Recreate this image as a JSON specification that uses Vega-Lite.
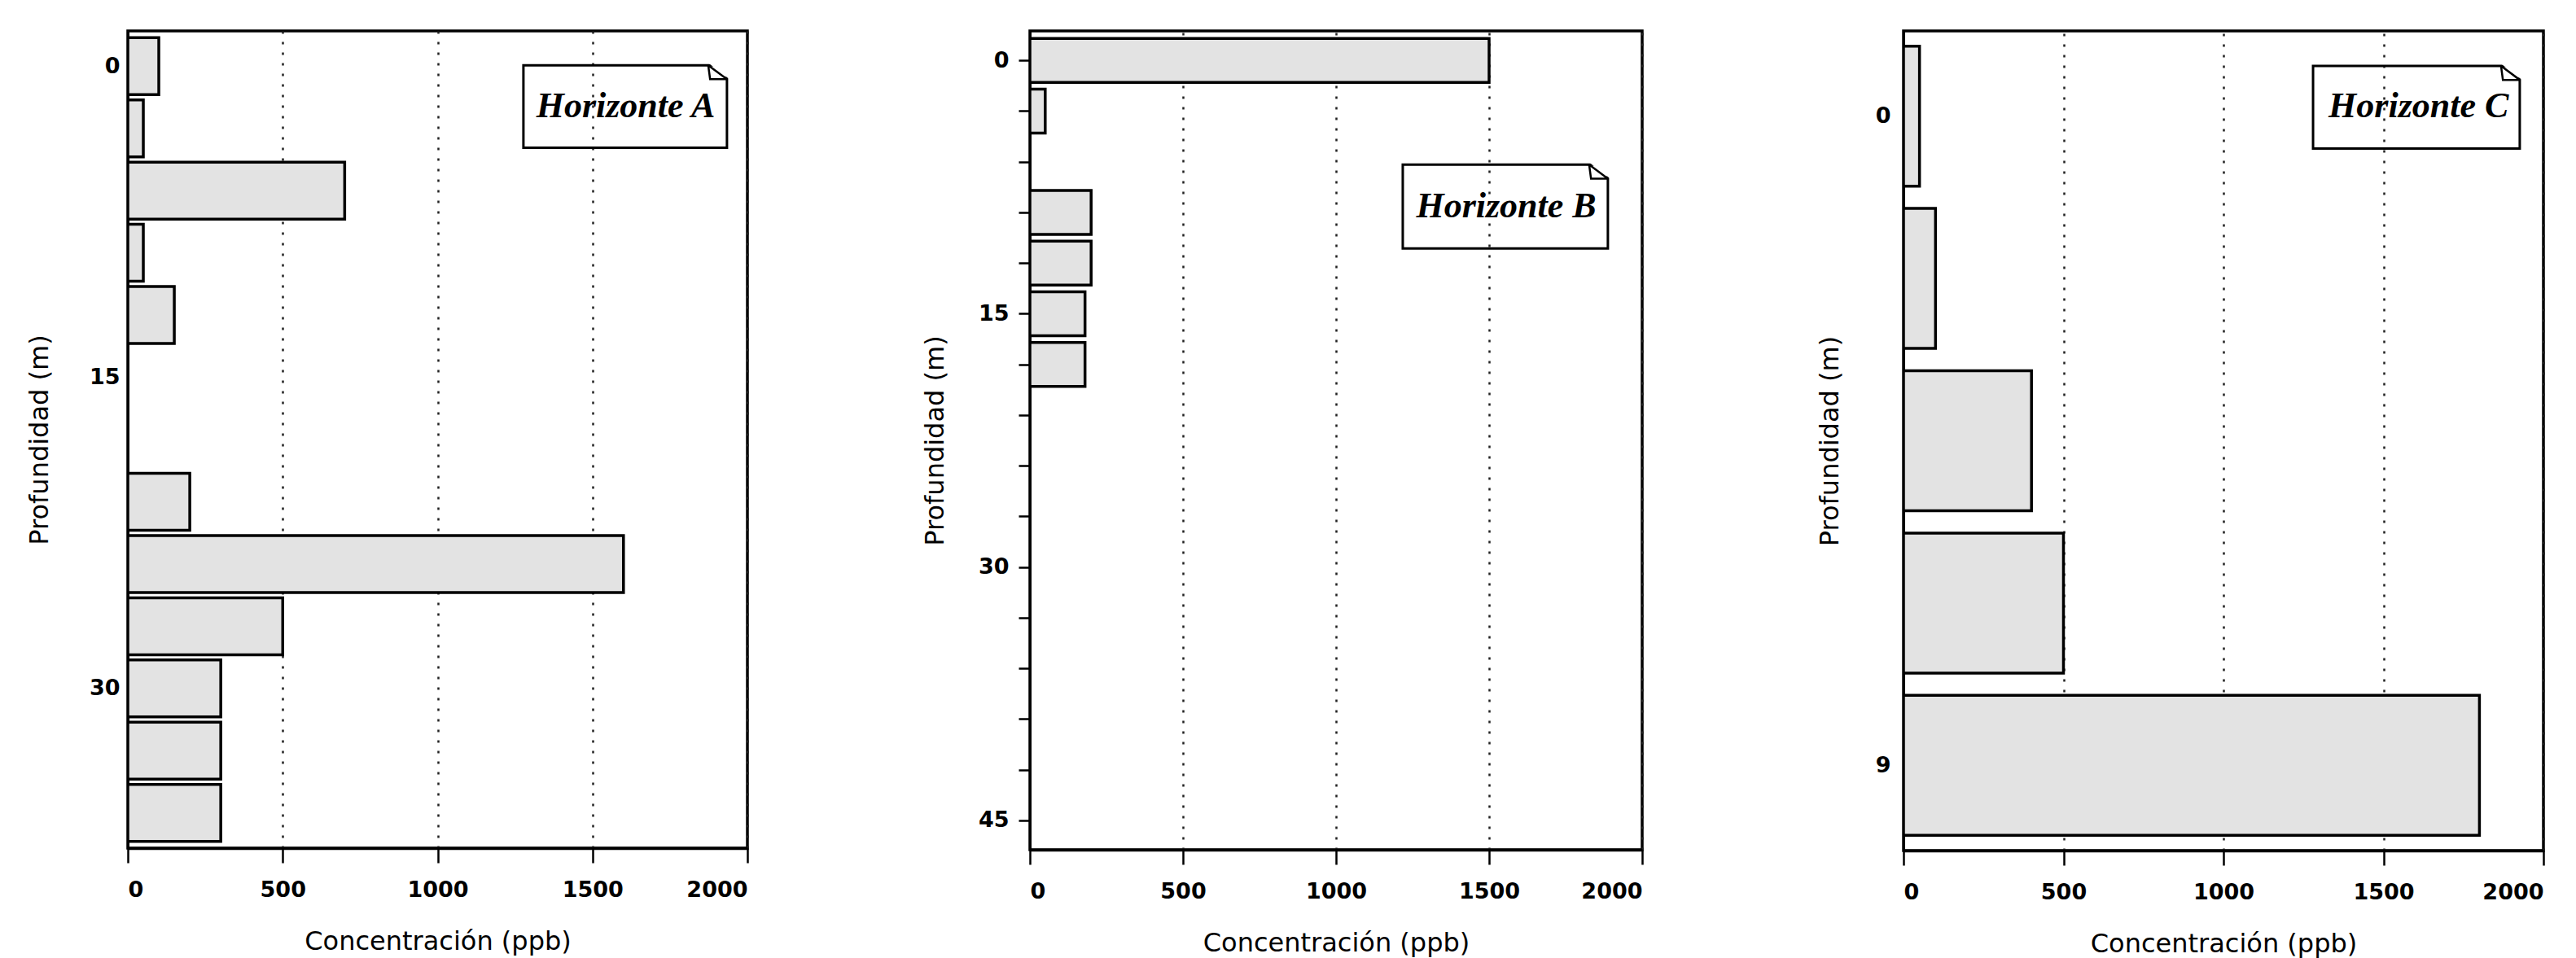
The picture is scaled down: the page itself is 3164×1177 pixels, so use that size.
{
  "$schema": "https://vega.github.io/schema/vega-lite/v6.json",
  "padding": {"left": 30, "top": 36, "right": 5, "bottom": 0},
  "background": "white",
  "datasets": {
    "hA": [
      {"profundidad": 0, "concentracion": 100},
      {"profundidad": 3, "concentracion": 50},
      {"profundidad": 6, "concentracion": 700},
      {"profundidad": 9, "concentracion": 50},
      {"profundidad": 12, "concentracion": 150},
      {"profundidad": 21, "concentracion": 200},
      {"profundidad": 24, "concentracion": 1600},
      {"profundidad": 27, "concentracion": 500},
      {"profundidad": 30, "concentracion": 300},
      {"profundidad": 33, "concentracion": 300},
      {"profundidad": 36, "concentracion": 300}
    ],
    "hB": [
      {"profundidad": 0, "concentracion": 1500},
      {"profundidad": 3, "concentracion": 50},
      {"profundidad": 9, "concentracion": 200},
      {"profundidad": 12, "concentracion": 200},
      {"profundidad": 15, "concentracion": 180},
      {"profundidad": 18, "concentracion": 180}
    ],
    "hC": [
      {"profundidad": 0, "concentracion": 50},
      {"profundidad": 2.25, "concentracion": 100},
      {"profundidad": 4.5, "concentracion": 400},
      {"profundidad": 6.75, "concentracion": 500},
      {"profundidad": 9, "concentracion": 1800}
    ]
  },
  "hconcat": [
    {
      "width": 761,
      "height": 1004,
      "layer": [
        {
          "data": {"name": "hA"},
          "mark": {"type": "bar", "orient": "horizontal", "height": 70, "fill": "#e3e3e3", "stroke": "black", "strokeWidth": 3.5, "clip": true},
          "encoding": {
            "x": {"field": "concentracion", "type": "quantitative", "scale": {"domain": [0, 2000], "nice": false},
                  "axis": {"values": [0, 500, 1000, 1500, 2000], "format": "d", "title": "Concentración (ppb)"}},
            "y": {"field": "profundidad", "type": "quantitative", "scale": {"domain": [-1.5, 37.5], "reverse": true, "nice": false, "zero": false},
                  "axis": {"values": [0, 15, 30], "format": "d", "ticks": false, "tickSize": 0, "labelPadding": 10, "title": "Profundidad (m)", "titlePadding": 44}}
          }
        },
        {
          "data": {"values": [{}]},
          "mark": {"type": "rect", "fill": null, "stroke": "black", "strokeWidth": 3},
          "encoding": {"x": {"datum": 1277}, "x2": {"datum": 1934}, "y": {"datum": -0.04}, "y2": {"datum": 3.93}}
        },
        {
          "data": {"values": [{}]},
          "mark": {"type": "point", "shape": "M -1.1 -0.2 L 0.2 -0.2 L 0.2 0.8 Z", "size": 2116, "filled": true, "fill": "white", "strokeWidth": 0, "opacity": 1},
          "encoding": {"x": {"datum": 1934}, "y": {"datum": -0.04}}
        },
        {
          "data": {"values": [{}]},
          "mark": {"type": "point", "shape": "M -1 0 L 0 0.74 M -1 0 L -0.9 0.74 L 0 0.74", "size": 2116, "filled": false, "stroke": "black", "strokeWidth": 2.5, "opacity": 1},
          "encoding": {"x": {"datum": 1934}, "y": {"datum": -0.04}}
        },
        {
          "data": {"values": [{}]},
          "mark": {"type": "text", "text": "Horizonte A", "font": "Liberation Serif", "fontStyle": "italic", "fontWeight": "bold", "fontSize": 44, "align": "center", "baseline": "middle", "color": "black"},
          "encoding": {"x": {"datum": 1607}, "y": {"datum": 1.96}}
        }
      ]
    },
    {
      "width": 752,
      "height": 1006,
      "layer": [
        {
          "data": {"name": "hB"},
          "mark": {"type": "bar", "orient": "horizontal", "height": 54, "fill": "#e3e3e3", "stroke": "black", "strokeWidth": 3.5, "clip": true},
          "encoding": {
            "x": {"field": "concentracion", "type": "quantitative", "scale": {"domain": [0, 2000], "nice": false},
                  "axis": {"values": [0, 500, 1000, 1500, 2000], "format": "d", "title": "Concentración (ppb)"}},
            "y": {"field": "profundidad", "type": "quantitative", "scale": {"domain": [-1.5, 46.5], "reverse": true, "nice": false, "zero": false},
                  "axis": {"values": [0, 3, 6, 9, 12, 15, 18, 21, 24, 27, 30, 33, 36, 39, 42, 45], "format": "d", "labelExpr": "datum.value % 15 === 0 ? datum.label : ''", "ticks": true, "tickSize": 14, "labelPadding": 12, "title": "Profundidad (m)", "titlePadding": 36}}
          }
        },
        {
          "data": {"values": [{}]},
          "mark": {"type": "rect", "fill": null, "stroke": "black", "strokeWidth": 3},
          "encoding": {"x": {"datum": 1218}, "x2": {"datum": 1888}, "y": {"datum": 6.18}, "y2": {"datum": 11.14}}
        },
        {
          "data": {"values": [{}]},
          "mark": {"type": "point", "shape": "M -1.1 -0.2 L 0.2 -0.2 L 0.2 0.8 Z", "size": 2116, "filled": true, "fill": "white", "strokeWidth": 0, "opacity": 1},
          "encoding": {"x": {"datum": 1888}, "y": {"datum": 6.18}}
        },
        {
          "data": {"values": [{}]},
          "mark": {"type": "point", "shape": "M -1 0 L 0 0.74 M -1 0 L -0.9 0.74 L 0 0.74", "size": 2116, "filled": false, "stroke": "black", "strokeWidth": 2.5, "opacity": 1},
          "encoding": {"x": {"datum": 1888}, "y": {"datum": 6.18}}
        },
        {
          "data": {"values": [{}]},
          "mark": {"type": "text", "text": "Horizonte B", "font": "Liberation Serif", "fontStyle": "italic", "fontWeight": "bold", "fontSize": 44, "align": "center", "baseline": "middle", "color": "black"},
          "encoding": {"x": {"datum": 1556}, "y": {"datum": 8.66}}
        }
      ]
    },
    {
      "width": 786,
      "height": 1007,
      "layer": [
        {
          "data": {"name": "hC"},
          "mark": {"type": "bar", "orient": "horizontal", "height": 172, "fill": "#e3e3e3", "stroke": "black", "strokeWidth": 3.5, "clip": true},
          "encoding": {
            "x": {"field": "concentracion", "type": "quantitative", "scale": {"domain": [0, 2000], "nice": false},
                  "axis": {"values": [0, 500, 1000, 1500, 2000], "format": "d", "title": "Concentración (ppb)"}},
            "y": {"field": "profundidad", "type": "quantitative", "scale": {"domain": [-1.125, 10.125], "reverse": true, "nice": false, "zero": false},
                  "axis": {"values": [0, 9], "format": "d", "ticks": false, "tickSize": 0, "labelPadding": 16, "title": "Profundidad (m)", "titlePadding": 39}}
          }
        },
        {
          "data": {"values": [{}]},
          "mark": {"type": "rect", "fill": null, "stroke": "black", "strokeWidth": 3},
          "encoding": {"x": {"datum": 1280}, "x2": {"datum": 1926}, "y": {"datum": -0.695}, "y2": {"datum": 0.45}}
        },
        {
          "data": {"values": [{}]},
          "mark": {"type": "point", "shape": "M -1.1 -0.2 L 0.2 -0.2 L 0.2 0.8 Z", "size": 2116, "filled": true, "fill": "white", "strokeWidth": 0, "opacity": 1},
          "encoding": {"x": {"datum": 1926}, "y": {"datum": -0.695}}
        },
        {
          "data": {"values": [{}]},
          "mark": {"type": "point", "shape": "M -1 0 L 0 0.74 M -1 0 L -0.9 0.74 L 0 0.74", "size": 2116, "filled": false, "stroke": "black", "strokeWidth": 2.5, "opacity": 1},
          "encoding": {"x": {"datum": 1926}, "y": {"datum": -0.695}}
        },
        {
          "data": {"values": [{}]},
          "mark": {"type": "text", "text": "Horizonte C", "font": "Liberation Serif", "fontStyle": "italic", "fontWeight": "bold", "fontSize": 44, "align": "center", "baseline": "middle", "color": "black"},
          "encoding": {"x": {"datum": 1610}, "y": {"datum": -0.13}}
        }
      ]
    }
  ],
  "config": {
    "font": "DejaVu Sans",
    "view": {"stroke": "black", "strokeWidth": 3.5},
    "concat": {"spacing": 209},
    "axis": {
      "domainColor": "black",
      "domainWidth": 3.5,
      "tickColor": "black",
      "tickWidth": 2.5,
      "labelFont": "DejaVu Sans",
      "labelFontWeight": "bold",
      "labelFontSize": 27,
      "labelColor": "black",
      "titleFont": "DejaVu Sans",
      "titleFontWeight": "normal",
      "titleFontSize": 32,
      "titleColor": "black",
      "grid": false
    },
    "axisX": {
      "grid": true,
      "gridColor": "#222222",
      "gridDash": [3, 10],
      "gridWidth": 2.5,
      "tickSize": 18,
      "labelPadding": 20,
      "titlePadding": 35
    },
    "axisY": {"domainWidth": 3}
  }
}
